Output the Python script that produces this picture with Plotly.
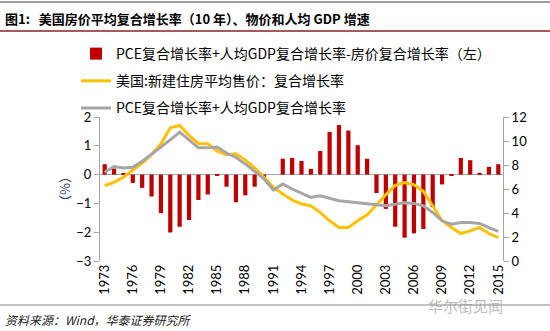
import plotly.graph_objects as go

years = [str(y) for y in range(1973, 2016)]

diff_bar = [0.36, 0.21, 0.03, -0.29, -0.46, -0.76, -1.34, -2.01, -1.81, -1.58,
            -0.88, -0.69, -0.05, -0.42, -0.96, -0.72, -0.42, -0.15, 0.0, 0.55,
            0.58, 0.47, 0.20, 0.82, 1.48, 1.72, 1.53, 1.02, 0.55, -0.64,
            -1.19, -1.81, -2.19, -2.04, -1.89, -1.13, -0.34, -0.05, 0.58, 0.50,
            0.06, 0.27, 0.36]

house_cagr = [6.28, 6.56, 6.98, 7.54, 8.15, 8.85, 9.77, 11.1, 11.3, 10.47,
              9.8, 9.77, 9.15, 8.85, 8.93, 8.43, 7.76, 6.98, 6.14, 5.58,
              5.08, 4.75, 4.6, 4.05, 3.35, 2.79, 2.79, 3.35, 3.85, 4.66,
              5.53, 6.3, 6.53, 6.36, 5.8, 4.6, 3.35, 2.79, 2.29, 2.51,
              2.79, 2.29, 1.95]

pce_gdp_cagr = [7.4, 7.87, 7.76, 7.81, 8.32, 8.87, 9.49, 10.1, 10.74, 10.1,
                9.43, 9.43, 9.49, 8.99, 8.65, 8.09, 7.48, 6.84, 5.92, 6.42,
                6.0, 5.65, 5.3, 5.44, 5.25, 5.02, 4.94, 4.86, 4.83, 4.69,
                4.6, 4.72, 4.86, 4.8, 4.6, 4.05, 3.35, 3.07, 3.21, 3.21,
                3.13, 2.79, 2.46]

tick_years = years[::3]

names = ["PCE复合增长率+人均GDP复合增长率-房价复合增长率（左）",
         "美国:新建住房平均售价：复合增长率",
         "PCE复合增长率+人均GDP复合增长率"]

# plot area in pixels
L, R, T, B = 100, 503, 117, 261
W, H = 550, 331


def px(x):
    return (x - L) / (R - L)


def py(y):
    return (B - y) / (B - T)


fig = go.Figure()
fig.add_trace(go.Bar(x=years, y=diff_bar, name=names[0], marker_color="#C00000",
                     marker_line_width=0, yaxis="y", legendgroup="a"))
fig.add_trace(go.Scatter(x=years, y=house_cagr, name=names[1], mode="lines",
                         line=dict(color="#FFC000", width=3), yaxis="y2", legendgroup="b"))
fig.add_trace(go.Scatter(x=years, y=pce_gdp_cagr, name=names[2], mode="lines",
                         line=dict(color="#A6A6A6", width=3), yaxis="y2", legendgroup="c"))

axis_font = dict(family="Lato, Liberation Sans, sans-serif", size=13, color="#000")

fig.update_layout(
    width=W, height=H,
    margin=dict(l=L, r=W - R, t=T, b=H - B, autoexpand=False),
    paper_bgcolor="white", plot_bgcolor="white",
    bargap=0.55,
    showlegend=True,
    legend=dict(x=px(76), y=py(38),
                xanchor="left", yanchor="top", traceorder="grouped",
                tracegroupgap=6, bgcolor="rgba(0,0,0,0)",
                font=dict(family="Noto Sans CJK SC, sans-serif", size=14, color="#000")),
    xaxis=dict(type="category", tickmode="array", tickvals=tick_years, ticktext=tick_years,
               tickangle=-90, tickfont=axis_font, showline=False, showgrid=False,
               ticks=""),
    yaxis=dict(range=[-3, 2], dtick=1, showgrid=False, zeroline=True,
               zerolinecolor="#A6A6A6", zerolinewidth=1, showline=True,
               linecolor="#A6A6A6", linewidth=1, ticks="outside", ticklen=5,
               tickcolor="#A6A6A6", tickfont=axis_font,
               title=dict(text="（%）", font=dict(family="Noto Sans CJK SC, sans-serif", size=13),
                          standoff=2)),
    yaxis2=dict(range=[0, 12], dtick=2, overlaying="y", side="right", showgrid=False,
                zeroline=False, showline=True, linecolor="#A6A6A6", linewidth=1,
                ticks="outside", ticklen=5, tickcolor="#A6A6A6", tickfont=axis_font),
)

fig.add_annotation(xref="paper", yref="paper", x=px(3), y=py(18),
                   xanchor="left", yanchor="middle", showarrow=False,
                   text="<b>图1:   美国房价平均复合增长率（10 年）、物价和人均 GDP 增速</b>",
                   font=dict(family="Noto Sans CJK SC, sans-serif", size=13, color="#000"))
fig.add_annotation(xref="paper", yref="paper", x=px(3), y=py(319),
                   xanchor="left", yanchor="middle", showarrow=False,
                   text="<i>资料来源：Wind，华泰证券研究所</i>",
                   font=dict(family="Noto Sans CJK SC, sans-serif", size=12, color="#222"))
fig.add_annotation(xref="paper", yref="paper", x=px(505), y=py(305),
                   xanchor="right", yanchor="middle", showarrow=False,
                   text="华尔街见闻",
                   font=dict(family="Noto Sans CJK SC, sans-serif", size=15,
                             color="rgba(140,140,140,0.6)"))

fig.add_shape(type="line", xref="paper", yref="paper", x0=px(0), x1=px(W),
              y0=py(2), y1=py(2), line=dict(color="#A0A0A0", width=2))
fig.add_shape(type="line", xref="paper", yref="paper", x0=px(0), x1=px(W),
              y0=py(31), y1=py(31), line=dict(color="#8B2020", width=1.5))
fig.add_shape(type="line", xref="paper", yref="paper", x0=px(0), x1=px(W),
              y0=py(305), y1=py(305), line=dict(color="#888", width=1))

fig.write_html("out.html")
